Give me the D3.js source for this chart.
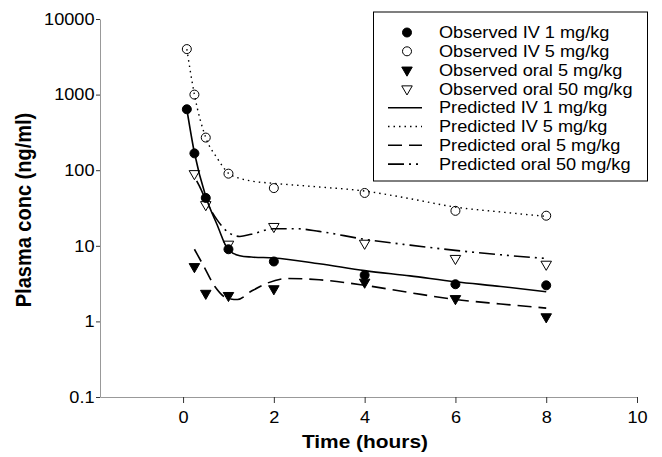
<!DOCTYPE html>
<html>
<head>
<meta charset="utf-8">
<script src="https://cdn.jsdelivr.net/npm/d3@7"></script>
<style>
  body { margin: 0; background: #fff; }
  svg { display: block; font-family: "Liberation Sans", Arial, Helvetica, sans-serif; }
</style>
</head>
<body>
<div id="chart"></div>
<script>
// observed samples (hours, ng/ml)
const obsTimes = [0.083, 0.25, 0.5, 1, 2, 4, 6, 8];
const obsIV1 = [640, 167, 43, 9.0, 6.2, 4.1, 3.1, 3.0];
const obsIV5 = [4000, 1000, 270, 90, 58, 50, 29, 25];
const oralTimes = [0.25, 0.5, 1, 2, 4, 6, 8];
const obsOral5 = [5.3, 2.35, 2.2, 2.7, 3.3, 2.0, 1.15];
const obsOral50 = [90, 35, 10.5, 18, 10.8, 6.8, 5.7];

// model predictions
const predIVTimes = [0.083, 0.25, 0.5, 0.75, 1, 1.25, 1.5, 2, 3, 4, 5, 6, 7, 8];
const predIV1 = [640, 170, 45, 19, 8.8, 7.4, 7.1, 6.9, 5.8, 4.7, 4.0, 3.35, 2.9, 2.47];
const predIV5 = [4000, 1000, 270, 145, 91, 78, 72, 67, 60, 53, 42, 32.5, 28, 24.5];
const predOral5Times = [0.25, 0.44, 0.7, 1.0, 1.2, 1.5, 1.85, 2.3, 3, 4, 5, 6, 7, 8];
const predOral5 = [9, 5.6, 2.9, 2.0, 1.95, 2.5, 3.2, 3.7, 3.55, 3.0, 2.4, 1.95, 1.7, 1.5];
const predOral50Times = [0.3, 0.4, 0.5, 0.75, 1, 1.25, 1.5, 2, 2.5, 3, 4, 5, 6, 7, 8];
const predOral50 = [72, 55, 40, 22, 15, 13.3, 14.2, 16.8, 16.8, 15.5, 12.2, 10.2, 8.7, 7.6, 6.8];

const xTicks = [0, 2, 4, 6, 8, 10];
const yTicks = [0.1, 1, 10, 100, 1000, 10000];
const legendLabels = [
    "Observed IV 1 mg/kg", "Observed IV 5 mg/kg",
    "Observed oral 5 mg/kg", "Observed oral 50 mg/kg",
    "Predicted IV 1 mg/kg", "Predicted IV 5 mg/kg",
    "Predicted oral 5 mg/kg", "Predicted oral 50 mg/kg"
];

const width = 662;
const height = 457;
const marginLeft = 100;
const marginRight = 25;
const marginTop = 19;
const marginBottom = 60;
const stretch = 1.1; // text in the original is a bit wide

const svg = d3.select("#chart")
    .append("svg")
    .attr("width", width)
    .attr("height", height)
    .attr("viewBox", [0, 0, width, height]);

svg.append("rect").attr("width", width).attr("height", height).attr("fill", "#fff");

const x = d3.scaleLinear([-1.83, 10], [marginLeft, width - marginRight]);
const y = d3.scaleLog([0.1, 10000], [height - marginBottom, marginTop]);

// axes
svg.append("g")
    .attr("transform", `translate(0,${height - marginBottom})`)
    .call(d3.axisBottom(x).tickValues(xTicks).tickSize(6).tickSizeOuter(0).tickPadding(8))
    .call(g => g.select(".domain").attr("stroke", "#999"))
    .call(g => g.selectAll(".tick line").attr("stroke", "#333"))
    .call(g => g.selectAll(".tick text")
        .attr("font-size", 16.5).attr("fill", "#000")
        .attr("transform", `scale(${stretch},1)`));

svg.append("g")
    .attr("transform", `translate(${marginLeft},0)`)
    .call(d3.axisLeft(y).tickValues(yTicks).tickFormat(d3.format("~g")).tickSize(4).tickSizeOuter(0).tickPadding(1))
    .call(g => g.select(".domain").attr("stroke", "#999"))
    .call(g => g.selectAll(".tick line").attr("stroke", "#333"))
    .call(g => g.selectAll(".tick text")
        .attr("font-size", 16.5).attr("fill", "#000")
        .attr("transform", `scale(${stretch},1)`));

svg.append("text")
    .attr("transform", `translate(365,448) scale(${stretch},1)`)
    .attr("text-anchor", "middle")
    .attr("font-size", 19)
    .attr("font-weight", "bold")
    .text("Time (hours)");

svg.append("text")
    .attr("transform", `translate(31,210) rotate(-90) scale(1,${stretch})`)
    .attr("text-anchor", "middle")
    .attr("font-size", 20)
    .attr("font-weight", "bold")
    .text("Plasma conc (ng/ml)");

// predicted curves
const styles = [
    { dash: null, width: 1.6 },
    { dash: "1.5,4", width: 1.4 },
    { dash: "14,7", width: 1.6 },
    { dash: "16,5,2,5,2,5", width: 1.6 }
];
const predicted = [
    [predIVTimes, predIV1],
    [predIVTimes, predIV5],
    [predOral5Times, predOral5],
    [predOral50Times, predOral50]
];

const line = d3.line()
    .x(d => x(d[0]))
    .y(d => y(d[1]))
    .curve(d3.curveMonotoneX);

predicted.forEach(([t, v], i) => {
    svg.append("path")
        .attr("d", line(d3.zip(t, v)))
        .attr("fill", "none")
        .attr("stroke", "#000")
        .attr("stroke-width", styles[i].width)
        .attr("stroke-dasharray", styles[i].dash);
});

// observed markers
const tri = d3.symbol(d3.symbolTriangle, 48);
function marker(g, kind) {
    if (kind === 0 || kind === 1) {
        g.append("circle").attr("r", 4.5)
            .attr("fill", kind === 0 ? "#000" : "none")
            .attr("stroke", "#000").attr("stroke-width", 1);
    } else {
        g.append("path").attr("d", tri()).attr("transform", "rotate(180)")
            .attr("fill", kind === 2 ? "#000" : "none")
            .attr("stroke", "#000").attr("stroke-width", 1);
    }
}

const observed = [
    [obsTimes, obsIV1],
    [obsTimes, obsIV5],
    [oralTimes, obsOral5],
    [oralTimes, obsOral50]
];

observed.forEach(([t, v], i) => {
    d3.zip(t, v).forEach(d => {
        const g = svg.append("g").attr("transform", `translate(${x(d[0])},${y(d[1])})`);
        marker(g, i);
    });
});

// legend
const legend = svg.append("g");
legend.append("rect")
    .attr("x", 373.5).attr("y", 12)
    .attr("width", 274).attr("height", 169)
    .attr("fill", "#fff").attr("stroke", "#000").attr("stroke-width", 1);

legendLabels.forEach((label, i) => {
    const cy = 32.5 + i * 18.8;
    if (i < 4) {
        marker(legend.append("g").attr("transform", `translate(407,${cy})`), i);
    } else {
        const s = styles[i - 4];
        legend.append("line")
            .attr("x1", 388).attr("x2", 422).attr("y1", cy).attr("y2", cy)
            .attr("stroke", "#000").attr("stroke-width", s.width)
            .attr("stroke-dasharray", s.dash);
    }
    legend.append("text")
        .attr("transform", `translate(439,${cy}) scale(${stretch},1)`)
        .attr("dy", "0.35em")
        .attr("font-size", 16.5)
        .text(label);
});
</script>
</body>
</html>
